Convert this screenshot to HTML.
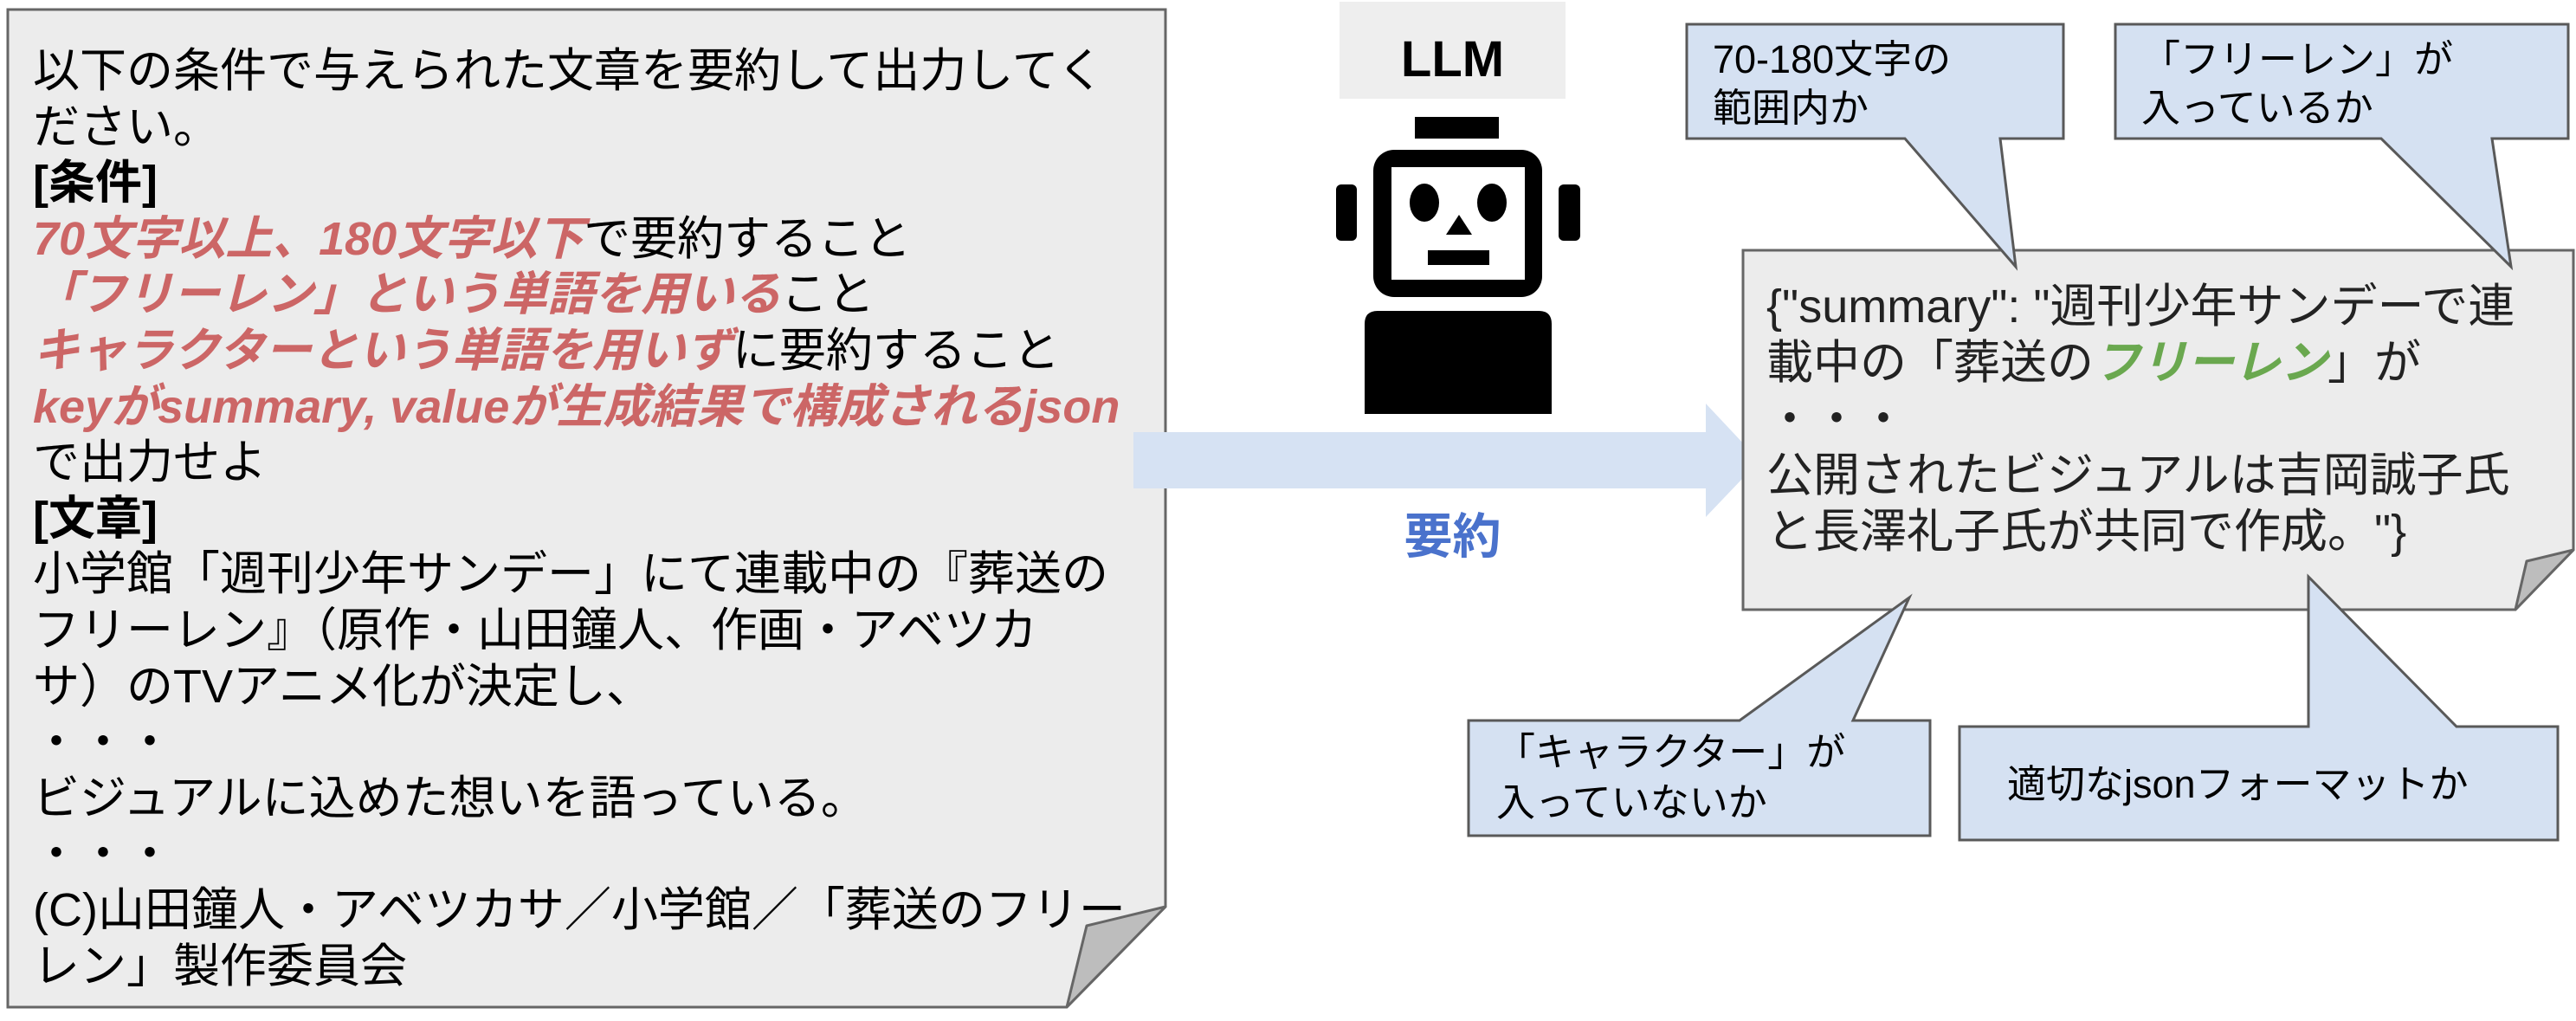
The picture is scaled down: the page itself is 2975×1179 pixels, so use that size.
<!DOCTYPE html>
<html><head><meta charset="utf-8"><style>
html,body{margin:0;padding:0;background:#fff;}
body{width:2975px;height:1179px;position:relative;overflow:hidden;font-family:"Liberation Sans","Noto Sans CJK JP",sans-serif;}
svg{position:absolute;left:0;top:0;}
.t{position:absolute;white-space:nowrap;color:#000;}
.r{color:#cc6666;font-weight:bold;font-style:italic;}
.b{font-weight:bold;}
.g{color:#6aa84f;font-weight:bold;font-style:italic;}
</style></head><body>
<svg width="2975" height="1179" viewBox="0 0 2975 1179">
  <path d="M9,11 L1346,11 L1346,1047 L1232,1163 L9,1163 Z" fill="#ececec" stroke="#666" stroke-width="3"/>
  <path d="M1346,1047 L1255,1069 L1232,1163 Z" fill="#bdbdbd" stroke="#666" stroke-width="3" stroke-linejoin="round"/>
  <path d="M1309,499 L1970,499 L1970,466 L2032,532 L1970,597 L1970,564 L1309,564 Z" fill="#d6e2f3"/>
  <rect x="1547" y="2" width="261" height="112" fill="#eeeeee"/>
  <rect x="1634" y="135" width="97" height="25" fill="#000"/>
  <rect x="1586" y="173" width="195" height="170" rx="24" fill="#000"/>
  <rect x="1607" y="193" width="154" height="130" fill="#fff"/>
  <rect x="1543" y="213" width="24" height="65" rx="6" fill="#000"/>
  <rect x="1800" y="213" width="25" height="65" rx="6" fill="#000"/>
  <ellipse cx="1645" cy="234" rx="17" ry="22" fill="#000"/>
  <ellipse cx="1723" cy="234" rx="17" ry="22" fill="#000"/>
  <path d="M1685,248 L1670,271 L1700,271 Z" fill="#000"/>
  <rect x="1649" y="289" width="71" height="17" fill="#000"/>
  <path d="M1576,374 Q1576,359 1591,359 L1777,359 Q1792,359 1792,374 L1792,478 L1576,478 Z" fill="#000"/>
  <path d="M2013,289 L2972,289 L2972,635 L2905,704 L2013,704 Z" fill="#ececec" stroke="#666" stroke-width="3"/>
  <path d="M2972,635 L2918,648 L2905,704 Z" fill="#bdbdbd" stroke="#666" stroke-width="3" stroke-linejoin="round"/>
  <path d="M1948,28 H2383 V160 H2310 L2328,308 L2200,160 H1948 Z" fill="#d5e1f2" stroke="#595959" stroke-width="3"/>
  <path d="M2443,28 H2966 V160 H2878 L2900,308 L2750,160 H2443 Z" fill="#d5e1f2" stroke="#595959" stroke-width="3"/>
  <path d="M1696,832 H2009 L2205,690 L2140,832 H2229 V965 H1696 Z" fill="#d5e1f2" stroke="#595959" stroke-width="3"/>
  <path d="M2263,839 H2666 V666 L2837,839 H2954 V970 H2263 Z" fill="#d5e1f2" stroke="#595959" stroke-width="3"/>
</svg>

<div class="t" style="left:38px;top:50px;font-size:54px;line-height:64.6px;">
以下の条件で与えられた文章を要約して出力してく<br>
ださい。<br>
<span class="b">[条件]</span><br>
<span class="r">70文字以上、180文字以下</span>で要約すること<br>
<span class="r">「フリーレン」という単語を用いる</span>こと<br>
<span class="r">キャラクターという単語を用いず</span>に要約すること<br>
<span class="r">keyがsummary, valueが生成結果で構成されるjson</span><br>
で出力せよ<br>
<span class="b">[文章]</span><br>
小学館「週刊少年サンデー」にて連載中の『葬送の<br>
フリーレン』（原作・山田鐘人、作画・アベツカ<br>
サ）のTVアニメ化が決定し、<br>
・・・<br>
ビジュアルに込めた想いを語っている。<br>
・・・<br>
(C)山田鐘人・アベツカサ／小学館／「葬送のフリー<br>
レン」製作委員会
</div>

<div class="t b" style="left:1547px;top:34px;width:261px;text-align:center;font-size:58px;line-height:70px;">LLM</div>
<div class="t b" style="left:1547px;top:585px;width:261px;text-align:center;font-size:56px;line-height:70px;color:#4a72cc;">要約</div>

<div class="t" style="left:2040px;top:322px;font-size:54px;line-height:65px;color:#222;">
{"summary": "週刊少年サンデーで連<br>
載中の「葬送の<span class="g">フリーレン</span>」が<br>
・・・<br>
公開されたビジュアルは吉岡誠子氏<br>
と長澤礼子氏が共同で作成。"}
</div>

<div class="t" style="left:1978px;top:41px;font-size:45px;line-height:56px;">70-180文字の<br>範囲内か</div>
<div class="t" style="left:2473px;top:41px;font-size:45px;line-height:56px;">「フリーレン」が<br>入っているか</div>
<div class="t" style="left:1728px;top:840px;font-size:45px;line-height:58px;">「キャラクター」が<br>入っていないか</div>
<div class="t" style="left:2318px;top:878px;font-size:45px;line-height:56px;">適切なjsonフォーマットか</div>
</body></html>
